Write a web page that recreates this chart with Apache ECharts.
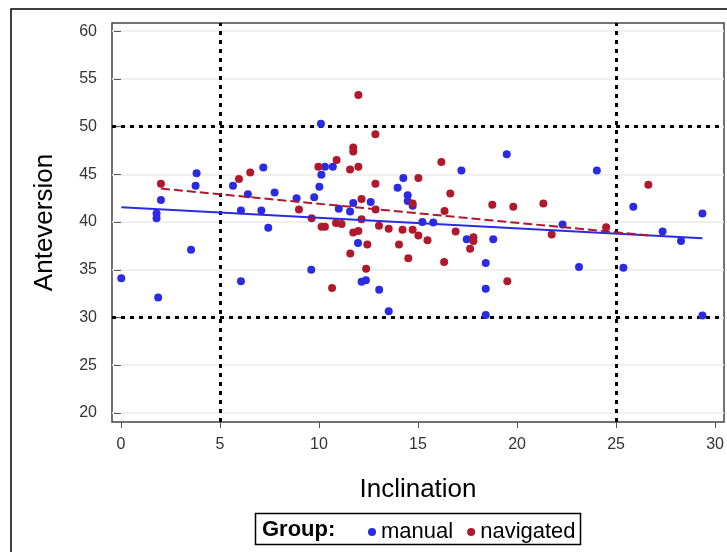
<!DOCTYPE html>
<html>
<head>
<meta charset="utf-8">
<script src="https://cdn.jsdelivr.net/npm/echarts@6/dist/echarts.min.js"></script>
<style>
html,body{margin:0;padding:0;background:#fff;}
#chart{width:727px;height:552px;}
</style>
</head>
<body>
<div id="chart"></div>
<script>
// ---- data ----
const xTicks = [0, 5, 10, 15, 20, 25, 30];
const yTicks = [20, 25, 30, 35, 40, 45, 50, 55, 60];
const groupNames = ['manual', 'navigated'];

const manualX = [0.02, 1.88, 1.80, 1.80, 2.02, 3.54, 3.82, 3.77, 5.66, 6.06, 6.06, 6.41, 7.09, 7.19, 7.44, 7.76, 8.87, 9.61, 9.76, 10.02, 10.12, 10.10, 10.30, 10.70, 11.00, 11.57, 11.73, 12.61, 11.97, 12.15, 12.37, 13.04, 13.52, 13.97, 14.26, 14.48, 14.48, 14.73, 15.22, 15.77, 17.19, 17.46, 18.80, 18.42, 18.42, 18.42, 19.48, 22.30, 23.13, 24.03, 25.37, 25.87, 27.35, 28.28, 29.36, 29.36];
const manualY = [34.1, 32.1, 40.9, 40.4, 42.3, 37.1, 45.1, 43.8, 43.8, 33.8, 41.2, 42.9, 41.2, 45.7, 39.4, 43.1, 42.5, 35.0, 42.6, 43.7, 44.95, 50.3, 45.8, 45.8, 41.4, 41.1, 42.0, 42.1, 37.8, 33.75, 33.9, 32.9, 30.65, 43.6, 44.6, 42.8, 42.2, 41.7, 40.0, 39.95, 45.4, 38.2, 38.2, 35.7, 33.0, 30.26, 47.1, 39.75, 35.3, 45.4, 35.2, 41.6, 39.0, 38.0, 40.9, 30.2];

const navigatedX = [2.02, 5.96, 6.53, 8.99, 9.63, 9.97, 10.13, 10.30, 10.66, 10.86, 10.89, 11.14, 11.57, 11.58, 11.73, 11.73, 11.73, 11.99, 11.99, 11.99, 12.15, 12.15, 12.38, 12.44, 12.85, 12.85, 12.86, 13.03, 13.52, 14.04, 14.22, 14.51, 14.73, 14.73, 15.02, 15.02, 15.48, 16.18, 16.32, 16.34, 16.63, 16.90, 17.63, 17.80, 17.80, 18.75, 19.51, 19.81, 21.33, 21.75, 24.50, 26.63];
const navigatedY = [44.0, 44.5, 45.2, 41.3, 40.4, 45.8, 39.5, 39.5, 33.1, 39.9, 46.5, 39.8, 45.5, 36.7, 47.8, 47.4, 38.9, 53.3, 45.8, 39.06, 42.4, 40.3, 35.1, 37.65, 49.2, 44.0, 41.3, 39.6, 39.3, 37.65, 39.2, 36.2, 41.95, 39.2, 44.6, 38.6, 38.1, 46.3, 35.8, 41.15, 43.0, 39.0, 37.2, 38.4, 38.0, 41.8, 33.8, 41.6, 41.95, 38.7, 39.45, 43.9];

// fitted regression lines (end points)
const manualFitX = [0.02, 29.36];
const manualFitY = [41.55, 38.3];
const navigatedFitX = [2.02, 26.63];
const navigatedFitY = [43.5, 38.6];

// reference lines
const refX = [5, 25];
const refY = [30, 50];

// ---- chart ----
const BLUE = '#2b2be3';
const RED = '#b0182c';
const FONT = '"Liberation Sans", Arial, sans-serif';

const zip = (xs, ys) => xs.map((x, i) => [x, ys[i]]);

const chart = echarts.init(document.getElementById('chart'), null, {renderer: 'canvas'});

chart.setOption({
  animation: false,
  backgroundColor: '#fff',
  textStyle: {fontFamily: FONT},
  grid: {
    left: 112, top: 23, right: 3, bottom: 130,
    show: true, borderColor: '#444', borderWidth: 1.5, backgroundColor: 'transparent'
  },
  xAxis: {
    type: 'value', min: -0.45, max: 30.45,
    name: 'Inclination', nameLocation: 'middle', nameGap: 55,
    nameTextStyle: {fontSize: 26, color: '#000', fontFamily: FONT},
    axisLine: {show: false},
    axisTick: {show: true, length: 6, customValues: xTicks, lineStyle: {color: '#555', width: 1}},
    axisLabel: {customValues: xTicks, fontSize: 16, color: '#333', margin: 15, fontFamily: FONT},
    splitLine: {show: false}
  },
  yAxis: {
    type: 'value', min: 19.05, max: 60.85,
    name: 'Anteversion', nameLocation: 'middle', nameGap: 54, nameRotate: 90,
    nameTextStyle: {fontSize: 26, color: '#000', fontFamily: FONT},
    axisLine: {show: false},
    axisTick: {show: true, length: 7, customValues: yTicks, lineStyle: {color: '#555', width: 1}},
    axisLabel: {customValues: yTicks, fontSize: 16, color: '#333', margin: 15, fontFamily: FONT},
    splitLine: {show: false}
  },
  legend: {
    left: 363, top: 516,
    data: groupNames,
    icon: 'circle', itemWidth: 8, itemHeight: 8, itemGap: 14,
    textStyle: {fontSize: 22, color: '#000', fontFamily: FONT}
  },
  graphic: [
    {type: 'rect', shape: {x: 11, y: 9, width: 900, height: 700}, style: {fill: 'none', stroke: '#000', lineWidth: 1.5}, silent: true, z: -10},
    {type: 'rect', shape: {x: 255.5, y: 513.5, width: 325, height: 31}, style: {fill: 'none', stroke: '#000', lineWidth: 1.5}, silent: true},
    {type: 'text', x: 262, y: 530, style: {text: 'Group:', font: 'bold 22px ' + FONT, fill: '#000', verticalAlign: 'middle'}, silent: true}
  ],
  series: [
    {
      name: 'grid', type: 'line', data: [], silent: true, z: 0,
      markLine: {
        silent: true, symbol: 'none', label: {show: false}, animation: false, z: 0,
        lineStyle: {color: '#ebebeb', width: 1.5, type: 'solid'},
        data: yTicks.map(v => ({yAxis: v}))
      }
    },
    {
      name: 'ref', type: 'line', data: [], silent: true, z: 1,
      markLine: {
        silent: true, symbol: 'none', label: {show: false}, animation: false, z: 1,
        lineStyle: {color: '#000', width: 3, type: [4, 5]},
        data: refX.map(v => ({xAxis: v})).concat(refY.map(v => ({yAxis: v})))
      }
    },
    {
      name: 'manual', type: 'scatter', symbol: 'circle', symbolSize: 8, z: 3,
      itemStyle: {color: BLUE, opacity: 1}, data: zip(manualX, manualY)
    },
    {
      name: 'navigated', type: 'scatter', symbol: 'circle', symbolSize: 8, z: 3,
      itemStyle: {color: RED, opacity: 1}, data: zip(navigatedX, navigatedY)
    },
    {
      name: 'manualFit', type: 'line', showSymbol: false, z: 4, silent: true,
      lineStyle: {color: BLUE, width: 2}, itemStyle: {color: BLUE},
      data: zip(manualFitX, manualFitY)
    },
    {
      name: 'navigatedFit', type: 'line', showSymbol: false, z: 4, silent: true,
      lineStyle: {color: RED, width: 2, type: [9, 4]}, itemStyle: {color: RED},
      data: zip(navigatedFitX, navigatedFitY)
    }
  ]
});
</script>
</body>
</html>
